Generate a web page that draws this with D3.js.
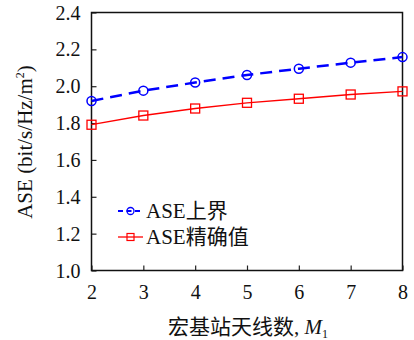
<!DOCTYPE html>
<html><head><meta charset="utf-8">
<script src="https://cdn.jsdelivr.net/npm/d3@7"></script>
<style>body{margin:0;background:#fff}svg{display:block}
.ser{font-family:"Liberation Serif","Times New Roman",serif}
.cjk{font-family:"Liberation Serif","Noto Sans CJK SC",serif}
</style>
</head><body><svg id="c" width="414" height="340"></svg>
<script>
const xValues = [2, 3, 4, 5, 6, 7, 8];
const upperBound = [1.92, 1.976, 2.02, 2.061, 2.095, 2.128, 2.158];
const exactValue = [1.791, 1.841, 1.879, 1.91, 1.932, 1.955, 1.972];
const yTicks = [1.0, 1.2, 1.4, 1.6, 1.8, 2.0, 2.2, 2.4];
const xTicks = [2, 3, 4, 5, 6, 7, 8];
const seriesNames = ["ASE上界", "ASE精确值"];

const svg = d3.select("#c");
const L = 91.5, R = 402.5, T = 12.5, B = 270.5;
const x = d3.scaleLinear().domain([2, 8]).range([L, R]);
const y = d3.scaleLinear().domain([1.0, 2.4]).range([B, T]);

// axes
const gx = svg.append("g").attr("transform", `translate(0,${B})`)
  .call(d3.axisBottom(x).tickValues(xTicks).tickSize(-5).tickPadding(14).tickFormat(d3.format("d")));
const gy = svg.append("g").attr("transform", `translate(${L},0)`)
  .call(d3.axisLeft(y).tickValues(yTicks).tickSize(-5).tickPadding(11).tickFormat(d3.format(".1f")));
[gx, gy].forEach(g => {
  g.attr("font-family", null).attr("font-size", 20);
  g.select(".domain").remove();
  g.selectAll(".tick line").attr("stroke", "#222").attr("stroke-width", 1.2);
  g.selectAll(".tick text").attr("class", "ser").attr("fill", "#111");
});
gy.selectAll(".tick text").attr("dy", "0.33em");
gx.selectAll(".tick text").attr("dy", "0.7em");

// frame
svg.append("rect").attr("x", L).attr("y", T).attr("width", R - L).attr("height", B - T)
  .attr("fill", "none").attr("stroke", "#111").attr("stroke-width", 1.5);

const line = d3.line().x((d, i) => x(xValues[i])).y(d => y(d));

// upper bound (blue dashed, circles)
svg.append("path").datum(upperBound).attr("d", line)
  .attr("fill", "none").attr("stroke", "#0000ff").attr("stroke-width", 2.5).attr("stroke-dasharray", "12,7");
svg.selectAll(".c").data(upperBound).enter().append("circle")
  .attr("cx", (d, i) => x(xValues[i])).attr("cy", d => y(d)).attr("r", 4.5)
  .attr("fill", "none").attr("stroke", "#0000ff").attr("stroke-width", 1.5);

// exact (red solid, squares)
svg.append("path").datum(exactValue).attr("d", line)
  .attr("fill", "none").attr("stroke", "#ff0000").attr("stroke-width", 1.3);
svg.selectAll(".s").data(exactValue).enter().append("rect")
  .attr("x", (d, i) => x(xValues[i]) - 4.5).attr("y", d => y(d) - 4.5)
  .attr("width", 9).attr("height", 9)
  .attr("fill", "none").attr("stroke", "#ff0000").attr("stroke-width", 1.3);

// legend
const lg = svg.append("g");
const ly = [211, 237];
lg.append("line").attr("x1", 118).attr("x2", 143).attr("y1", ly[0]).attr("y2", ly[0])
  .attr("stroke", "#0000ff").attr("stroke-width", 2).attr("stroke-dasharray", "5,3.5");
lg.append("circle").attr("cx", 130.5).attr("cy", ly[0]).attr("r", 3.5)
  .attr("fill", "none").attr("stroke", "#0000ff").attr("stroke-width", 1.3);
lg.append("line").attr("x1", 118).attr("x2", 143).attr("y1", ly[1]).attr("y2", ly[1])
  .attr("stroke", "#ff0000").attr("stroke-width", 1.3);
lg.append("rect").attr("x", 127).attr("y", ly[1] - 3.5).attr("width", 7).attr("height", 7)
  .attr("fill", "none").attr("stroke", "#ff0000").attr("stroke-width", 1.2);
seriesNames.forEach((n, i) => {
  lg.append("text").attr("class", "cjk").attr("x", 146).attr("y", ly[i]).attr("dy", "0.35em")
    .attr("font-size", 21).attr("fill", "#111").text(n);
});

// axis titles
const xt = svg.append("text").attr("class", "cjk").attr("x", 248).attr("y", 334).attr("text-anchor", "middle")
  .attr("font-size", 21).attr("fill", "#111");
xt.append("tspan").text("宏基站天线数, ");
xt.append("tspan").attr("font-style", "italic").text("M");
xt.append("tspan").attr("font-size", 12).attr("dy", 4).text("1");

const yt = svg.append("text").attr("class", "ser").attr("transform", "translate(32,142) rotate(-90)")
  .attr("text-anchor", "middle").attr("font-size", 21).attr("fill", "#111");
yt.append("tspan").text("ASE (bit/s/Hz/m");
yt.append("tspan").attr("font-size", 12).attr("dy", -8).text("2");
yt.append("tspan").attr("dy", 8).text(")");
</script></body></html>
